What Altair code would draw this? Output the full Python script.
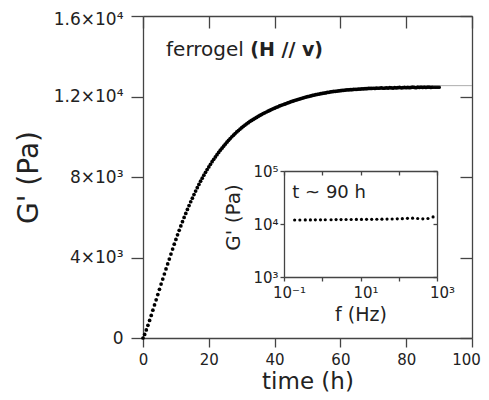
import altair as alt
import pandas as pd

# ---------------- data ----------------
# main curve: storage modulus G' (Pa) every 0.5 h from t = 0 h
gprime = [
    0, 180, 400, 630, 870, 1120, 1380, 1640, 1900, 2160,
    2420, 2680, 2930, 3180, 3430, 3680, 3920, 4170, 4420, 4660,
    4900, 5130, 5350, 5570, 5780, 5990, 6190, 6390, 6580, 6770,
    6950, 7130, 7300, 7470, 7630, 7790, 7940, 8090, 8230, 8370,
    8500, 8630, 8760, 8880, 9000, 9110, 9220, 9330, 9430, 9530,
    9630, 9730, 9820, 9910, 10000, 10080, 10160, 10240, 10310, 10380,
    10450, 10520, 10580, 10640, 10700, 10760, 10810, 10860, 10910, 10960,
    11010, 11060, 11100, 11150, 11190, 11230, 11270, 11310, 11350, 11390,
    11420, 11460, 11490, 11530, 11560, 11590, 11620, 11650, 11680, 11710,
    11740, 11770, 11800, 11820, 11850, 11870, 11900, 11920, 11950, 11970,
    11990, 12010, 12030, 12050, 12070, 12090, 12110, 12120, 12140, 12150,
    12170, 12180, 12200, 12210, 12230, 12240, 12250, 12260, 12270, 12280,
    12290, 12300, 12310, 12320, 12330, 12330, 12340, 12340, 12350, 12360,
    12360, 12370, 12370, 12380, 12380, 12390, 12390, 12400, 12400, 12400,
    12410,
    12400, 12420, 12410, 12420, 12430, 12410, 12420, 12430, 12420, 12440,
    12430, 12420, 12440, 12430, 12440, 12450, 12430, 12440, 12450, 12440,
    12450, 12440, 12450, 12460, 12450, 12440, 12460, 12450, 12460, 12450,
    12460, 12450, 12460, 12470, 12450, 12460, 12470, 12460, 12470, 12460,
]
time_step_h = 0.5
time_h = [round(i * time_step_h, 1) for i in range(len(gprime))]

# thin grey plateau line at the right end
plateau_t = [88, 100]
plateau_g = [12540, 12540]

# inset: frequency sweep at t ~ 90 h
freq_hz = [0.19, 0.26, 0.36, 0.49, 0.66, 0.90, 1.2, 1.7, 2.3, 3.1,
           4.2, 5.7, 7.8, 10.6, 14.4, 19.6, 26.7, 36.3, 49.4, 67.2,
           91.4, 124, 169, 230, 313, 426, 580, 789]
g_inset = [11900, 11900, 11950, 11950, 12000, 12000, 12050, 12050, 12100, 12100,
           12150, 12150, 12200, 12200, 12250, 12250, 12300, 12350, 12400, 12450,
           12500, 12600, 12800, 12900, 12700, 12500, 12700, 13600]

# tick values and labels
x_ticks = [0, 20, 40, 60, 80, 100]
y_ticks = [0, 4000, 8000, 12000, 16000]
y_tick_labels = ["0", "4×10³", "8×10³", "1.2×10⁴", "1.6×10⁴"]
fx_ticks = [0.1, 1, 10, 100, 1000]
fx_tick_labels = ["10⁻¹", "", "10¹", "", "10³"]
gy_ticks = [1000, 10000, 100000]
gy_tick_labels = ["10³", "10⁴", "10⁵"]

# annotations
label_main = ["ferrogel"]
label_main_bold = ["(H // v)"]
label_main_pos = [7.0, 14000]
label_bold_pos = [32.6, 14000]
label_inset = ["t ~ 90 h"]
label_inset_pos = [0.165, 31000]


def label_expr(values, labels):
    expr = "''"
    for v, l in zip(values[::-1], labels[::-1]):
        expr = f"datum.value == {v} ? '{l}' : ({expr})"
    return expr


FONT = "DejaVu Sans"
AX = "#444444"
TXT = "#222222"
W, H = 329, 322
# inset box in plot-area pixels
IL, IR, IT, IB = 141, 294, 155, 261

main_df = pd.DataFrame({"t": time_h, "g": gprime})
plat_df = pd.DataFrame({"t": plateau_t, "g": plateau_g})
inset_df = pd.DataFrame({"f": freq_hz, "g": g_inset})

xs_main = alt.Scale(domain=[0, 100], nice=False, zero=False)
ys_main = alt.Scale(domain=[0, 16000], nice=False, zero=False)
xs_in = alt.Scale(type="log", domain=[0.1, 1000], range=[IL, IR], nice=False)
ys_in = alt.Scale(type="log", domain=[1000, 100000], range=[IB, IT], nice=False)

common_axis = dict(domainColor=AX, domainWidth=1.3, tickColor=AX, tickWidth=1.3,
                   labelFont=FONT, labelColor=TXT, titleFont=FONT, titleColor=TXT,
                   grid=False, titleFontWeight="normal")

# layer 1: main data, bottom + left axes
main_pts = alt.Chart(main_df).mark_circle(size=14, color="black", opacity=1).encode(
    x=alt.X("t:Q", scale=xs_main,
            axis=alt.Axis(orient="bottom", values=x_ticks, title="time (h)", tickSize=9,
                          labelFontSize=15, labelPadding=5, titleFontSize=23, titlePadding=3,
                          labelOffset={"condition": {"test": "datum.value == 100", "value": -6},
                                       "value": 0},
                          labelFlush=False, **common_axis)),
    y=alt.Y("g:Q", scale=ys_main,
            axis=alt.Axis(orient="left", values=y_ticks, title="G' (Pa)", tickSize=12,
                          labelFontSize=17, labelPadding=8, titleFontSize=28, titlePadding=10,
                          labelOffset={"condition": {"test": "datum.value == 16000", "value": 3},
                                       "value": 0},
                          labelExpr=label_expr(y_ticks, y_tick_labels), labelFlush=False,
                          **common_axis)),
)

# layer 2: top and right frame of the main plot (inward ticks) + grey plateau line
main_frame = alt.Chart(plat_df).mark_line(color="#999999", strokeWidth=0.8).encode(
    x=alt.X("t:Q", scale=xs_main,
            axis=alt.Axis(orient="bottom", offset=-H, values=x_ticks, labels=False, title=None,
                          tickSize=12, **common_axis)),
    y=alt.Y("g:Q", scale=ys_main,
            axis=alt.Axis(orient="left", offset=-W, values=y_ticks, labels=False, title=None,
                          tickSize=12, **common_axis)),
)

# text annotations in the main plot
ann_df = pd.DataFrame({"t": [label_main_pos[0]], "g": [label_main_pos[1]], "s": label_main})
ann_b_df = pd.DataFrame({"t": [label_bold_pos[0]], "g": [label_bold_pos[1]], "s": label_main_bold})
ann1 = alt.Chart(ann_df).mark_text(align="left", baseline="alphabetic", font=FONT,
                                   fontSize=20, color=TXT).encode(
    x=alt.X("t:Q", scale=xs_main, axis=None), y=alt.Y("g:Q", scale=ys_main, axis=None),
    text="s:N")
ann2 = alt.Chart(ann_b_df).mark_text(align="left", baseline="alphabetic", font=FONT,
                                     fontSize=19, fontWeight="bold", color=TXT).encode(
    x=alt.X("t:Q", scale=xs_main, axis=None), y=alt.Y("g:Q", scale=ys_main, axis=None),
    text="s:N")

# layer 3: inset data with bottom + left axes
inset_pts = alt.Chart(inset_df).mark_circle(size=10, color="black", opacity=1).encode(
    x=alt.X("f:Q", scale=xs_in,
            axis=alt.Axis(orient="bottom", offset=IB - H, values=fx_ticks, title="f (Hz)",
                          tickSize=4, labelFontSize=15, labelPadding=4, labelOffset=5,
                          titleFontSize=19, titlePadding=5,
                          labelExpr=label_expr(fx_ticks, fx_tick_labels),
                          labelFlush=False, **common_axis)),
    y=alt.Y("g:Q", scale=ys_in,
            axis=alt.Axis(orient="left", offset=-IL, values=gy_ticks, title="G' (Pa)",
                          tickSize=4, labelFontSize=15, labelPadding=2, titleFontSize=20,
                          titlePadding=9, titleY=(IT + IB) / 2 - 7,
                          labelExpr=label_expr(gy_ticks, gy_tick_labels),
                          labelFlush=False, **common_axis)),
)

# layer 4: inset top + right frame (inward ticks)
inset_frame = alt.Chart(inset_df).mark_circle(opacity=0).encode(
    x=alt.X("f:Q", scale=xs_in,
            axis=alt.Axis(orient="bottom", offset=IT - H, values=fx_ticks, labels=False,
                          title=None, tickSize=4, **common_axis)),
    y=alt.Y("g:Q", scale=ys_in,
            axis=alt.Axis(orient="left", offset=-IR, values=gy_ticks, labels=False,
                          title=None, tickSize=4, **common_axis)),
)

ann_in_df = pd.DataFrame({"f": [label_inset_pos[0]], "g": [label_inset_pos[1]], "s": label_inset})
ann3 = alt.Chart(ann_in_df).mark_text(align="left", baseline="alphabetic", font=FONT,
                                      fontSize=18, color=TXT).encode(
    x=alt.X("f:Q", scale=xs_in, axis=None), y=alt.Y("g:Q", scale=ys_in, axis=None),
    text="s:N")

chart = alt.layer(main_pts, main_frame, ann1, ann2, inset_pts, inset_frame, ann3).resolve_scale(
    x="independent", y="independent"
).resolve_axis(x="independent", y="independent").properties(
    width=W, height=H,
    autosize=alt.AutoSizeParams(type="none"),
    padding={"left": 135, "top": 8, "right": 9, "bottom": 54},
    background="white",
).configure_view(strokeWidth=0)

chart.save("out.html", embed_options={"renderer": "svg", "actions": False})
